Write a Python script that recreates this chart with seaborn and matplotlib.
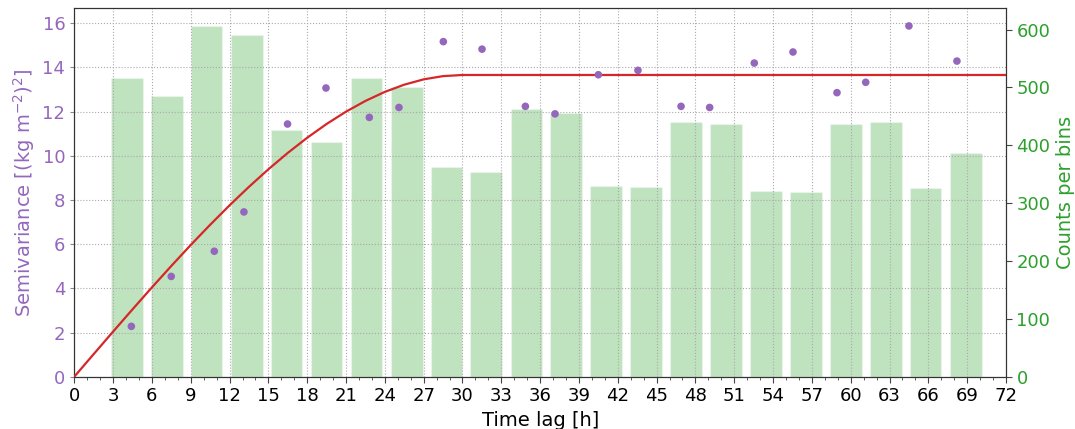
import numpy as np
import pandas as pd
import matplotlib
matplotlib.use("Agg")
import matplotlib.pyplot as plt
from matplotlib.ticker import MultipleLocator
import seaborn as sns

sns.set_style("ticks")
plt.rcParams["font.family"] = ["DejaVu Sans"]
plt.rcParams["text.color"] = "black"
plt.rcParams["axes.labelcolor"] = "black"
plt.rcParams["xtick.color"] = "black"
plt.rcParams["ytick.color"] = "black"

# Empirical semivariogram: mean lag per bin [h] and semivariance
lag_mean = [4.41, 7.49, 10.82, 13.11, 16.48, 19.45, 22.80, 25.09, 28.52, 31.51, 34.86,
            37.15, 40.50, 43.56, 46.89, 49.10, 52.55, 55.54, 58.94, 61.16, 64.50, 68.21]
semivar = [2.28, 4.54, 5.68, 7.46, 11.44, 13.07, 11.74, 12.19, 15.17, 14.83, 12.24,
           11.90, 13.67, 13.87, 12.24, 12.19, 14.20, 14.70, 12.86, 13.33, 15.88, 14.29]

# Lag-bin centres [h] and number of pairs in each bin
bin_centre = [4.07, 7.15, 10.23, 13.33, 16.40, 19.50, 22.60, 25.70, 28.76, 31.83, 34.95,
              37.99, 41.09, 44.17, 47.26, 50.38, 53.47, 56.55, 59.64, 62.73, 65.80, 68.90]
bin_count = [516, 485, 606, 591, 426, 406, 516, 500, 362, 353, 463,
             455, 330, 328, 440, 437, 321, 319, 436, 440, 327, 387]

# Fitted spherical model (nugget 0, sill 13.66, range 30 h)
model_lag = [0, 1.5, 3, 4.5, 6, 7.5, 9, 10.5, 12, 13.5, 15, 16.5, 18, 19.5, 21,
             22.5, 24, 25.5, 27, 28.5, 30, 72]
model_gamma = [0.0, 1.024, 2.042, 3.050, 4.043, 5.016, 5.963, 6.879, 7.759, 8.598,
               9.391, 10.133, 10.819, 11.443, 12.000, 12.486, 12.895, 13.222,
               13.462, 13.609, 13.660, 13.660]

purple = "#9467bd"
green = "#2ca02c"
red = "#d62728"

emp = pd.DataFrame({"lag": lag_mean, "gamma": semivar})
bins = pd.DataFrame({"centre": bin_centre, "count": bin_count})
model = pd.DataFrame({"lag": model_lag, "gamma": model_gamma})

fig = plt.figure(figsize=(10.75, 4.29), dpi=100)
ax = fig.add_axes([0.0691, 0.1219, 0.8667, 0.8588])
ax2 = ax.twinx()

# Pair counts on the secondary axis, drawn underneath
sns.barplot(data=bins, x="centre", y="count", native_scale=True, color=green,
            alpha=0.3, saturation=1, errorbar=None, width=0.8, ax=ax2)

sns.lineplot(data=model, x="lag", y="gamma", color=red, linewidth=1.6, ax=ax, zorder=3)
sns.scatterplot(data=emp, x="lag", y="gamma", color=purple, s=30, edgecolor="none",
                ax=ax, zorder=4)

ax.set_zorder(ax2.get_zorder() + 1)
ax.patch.set_visible(False)

ax.set_xlim(0, 72)
ax.set_ylim(0, 16.68)
ax2.set_ylim(0, 636.8)
ax.xaxis.set_major_locator(MultipleLocator(3))
ax.xaxis.set_minor_locator(MultipleLocator(1))
ax.yaxis.set_major_locator(MultipleLocator(2))
ax2.yaxis.set_major_locator(MultipleLocator(100))

ax.grid(True, which="major", linestyle=":", color="#aaaaaa", linewidth=0.8)
ax2.grid(False)

fs_tick = 13
fs_lab = 14
ax.set_xlabel("Time lag [h]", fontsize=fs_lab, color="black")
ax.set_ylabel(r"Semivariance [(kg m$^{-2}$)$^2$]", fontsize=fs_lab, color=purple)
ax2.set_ylabel("Counts per bins", fontsize=fs_lab, color=green)
ax.tick_params(axis="x", labelsize=fs_tick, labelcolor="black", length=4, color="#444444")
ax.tick_params(axis="x", which="minor", length=2, color="#444444")
ax.tick_params(axis="y", labelsize=fs_tick, labelcolor=purple, length=3, color="#888888")
ax2.tick_params(axis="y", labelsize=fs_tick, labelcolor=green, length=4, color="#444444")
ax2.set_xlim(0, 72)

for sp in ax.spines.values():
    sp.set_color("#333333")
for sp in ax2.spines.values():
    sp.set_color("#333333")

fig.savefig("out.png", dpi=100)
